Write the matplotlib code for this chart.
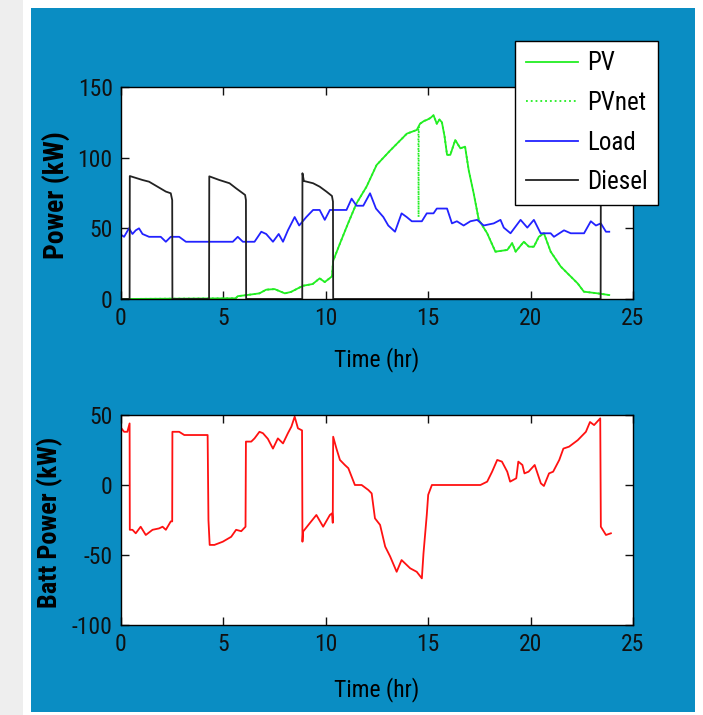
import numpy as np
import matplotlib
matplotlib.use('Agg')
import matplotlib.pyplot as plt
from matplotlib.patches import Rectangle

plt.rcParams['font.family'] = ['Roboto Condensed', 'Liberation Sans', 'DejaVu Sans']
plt.rcParams['axes.unicode_minus'] = False

# ---- data (time in hr, power in kW) ----
t_pv = [0, 5.6, 5.7, 6.1, 6.76, 7.09, 7.5, 7.75, 8.0, 8.3, 8.7, 8.9, 9.36, 9.7, 9.95,
        10.3, 10.36, 10.7, 11.09, 11.5, 11.99, 12.48, 13.14, 13.96, 14.44, 14.6, 14.8,
        14.93, 15.1, 15.26, 15.42, 15.55, 15.67, 15.8, 15.92, 16.08, 16.32, 16.57, 16.8,
        16.98, 17.22, 17.47, 17.88, 18.28, 18.86, 19.1, 19.27, 19.67, 19.92, 20.16, 20.4,
        20.65, 20.98, 21.47, 21.8, 22.3, 22.6, 23.27, 23.84]
pv = [0, 0.5, 2, 2.7, 4, 6.6, 7, 5.5, 4, 5, 8, 9.4, 10.6, 14.6, 12,
      16, 27, 39.6, 53.6, 67.7, 79.5, 94.8, 105, 117, 119.6, 124, 126,
      126.7, 128, 130, 124, 127, 125, 115, 102, 102, 112.5, 106.6, 107.8,
      91, 74.8, 56, 46.5, 33.5, 34.7, 39.5, 33.5, 40.5, 37, 37, 44,
      46.5, 33.5, 23, 18.2, 11, 5.2, 4, 2.8]

t_pvnet = [0, 5.6, 5.7, 6.1, 6.76, 7.09, 7.5, 7.75, 8.0, 8.3, 8.7, 8.9, 9.36, 9.7, 9.95,
           10.3, 10.36, 10.7, 11.09, 11.5, 11.99, 12.48, 13.14, 13.96, 14.44, 14.52, 14.53,
           14.54, 14.6, 14.8, 14.93, 15.1, 15.26, 15.42, 15.55, 15.67, 15.8, 15.92, 16.08,
           16.32, 16.57, 16.8, 16.98, 17.22, 17.47, 17.88, 18.28, 18.86, 19.1, 19.27, 19.67,
           19.92, 20.16, 20.4, 20.65, 20.98, 21.47, 21.8, 22.3, 22.6, 23.27, 23.84]
pvnet = [0, 0.5, 2, 2.7, 4, 6.6, 7, 5.5, 4, 5, 8, 9.4, 10.6, 14.6, 12,
         16, 27, 39.6, 53.6, 67.7, 79.5, 94.8, 105, 117, 119.6, 120, 58,
         121, 124, 126, 126.7, 128, 130, 124, 127, 125, 115, 102, 102,
         112.5, 106.6, 107.8, 91, 74.8, 56, 46.5, 33.5, 34.7, 39.5, 33.5, 40.5,
         37, 37, 44, 46.5, 33.5, 23, 18.2, 11, 5.2, 4, 2.8]

t_load = [0.02, 0.15, 0.39, 0.56, 0.72, 0.88, 1.05, 1.37, 1.94, 2.19, 2.43, 2.84, 3.17,
          5.46, 5.7, 5.95, 6.52, 6.85, 7.09, 7.42, 7.7, 7.91, 8.15, 8.48, 8.7, 9.05,
          9.38, 9.7, 9.95, 10.2, 11.01, 11.26, 11.5, 11.83, 12.16, 12.45, 12.81, 13.05,
          13.38, 13.7, 13.95, 14.2, 14.69, 14.93, 15.26, 15.42, 15.92, 16.16, 16.4, 16.73,
          17.06, 17.39, 17.71, 18.2, 18.53, 18.69, 19.02, 19.51, 19.84, 20.16, 20.49,
          20.98, 21.14, 21.63, 21.96, 22.61, 22.94, 23.19, 23.43, 23.68, 23.84]
load = [45.3, 44, 50, 46, 48.6, 50, 46, 44, 44, 40.5, 44, 44, 40.5,
        40.5, 44, 40.5, 40.5, 47.6, 46, 40.5, 46, 40.5, 48.6, 58, 52, 58,
        63, 63, 56, 63, 63, 71, 66, 66, 74.8, 64, 58, 52,
        47.6, 60.6, 58, 55, 55, 60.6, 60.6, 64, 64, 53.5, 55, 52,
        55, 56, 52, 53.5, 56, 50.5, 46.5, 56, 50.5, 56, 46.5,
        46.5, 44, 48.6, 46.5, 46.5, 55, 52, 53.5, 47.6, 47.6]

t_diesel = [0, 0.42, 0.43, 1.05, 1.37, 1.78, 2.19, 2.43, 2.5, 2.51,
            4.3, 4.31, 4.8, 5.3, 5.62, 5.95, 6.06, 6.1, 6.11,
            8.85, 8.86, 8.93, 9.38, 9.7, 10.03, 10.3, 10.35, 10.36,
            23.42, 23.43, 24.0]
diesel = [0, 0, 87, 84.2, 83, 79.5, 76, 74.8, 70, 0,
          0, 86.8, 84.2, 81.9, 78.3, 74.8, 73.6, 70, 0,
          0, 89, 83.5, 81.9, 79.5, 76, 72.9, 68.9, 0,
          0, 86, 84]

t_batt = [0.02, 0.15, 0.31, 0.42, 0.43, 0.56, 0.72, 0.96, 1.21, 1.54, 1.86, 2.03, 2.19,
          2.43, 2.5, 2.51, 2.84, 3.09, 4.23, 4.27, 4.33, 4.56, 4.97, 5.38, 5.62, 5.87,
          6.08, 6.1, 6.36, 6.52, 6.76, 6.93, 7.17, 7.42, 7.66, 7.91, 8.15, 8.32, 8.48,
          8.64, 8.84, 8.86, 8.89, 9.21, 9.54, 9.87, 10.2, 10.31, 10.34, 10.36, 10.52,
          10.69, 10.93, 11.1, 11.42, 11.75, 12.08, 12.24, 12.4, 12.65, 12.9, 13.14,
          13.46, 13.7, 14.12, 14.44, 14.69, 14.77, 14.93, 15.0, 15.18, 17.55, 17.88,
          18.12, 18.37, 18.6, 18.86, 19.0, 19.3, 19.4, 19.6, 19.7, 19.9, 20.2, 20.5,
          20.65, 20.9, 21.1, 21.4, 21.6, 21.88, 22.3, 22.7, 22.9, 23.1, 23.4, 23.43,
          23.68, 23.92]
batt = [40.5, 38, 38, 44, -32, -32, -34.5, -29.8, -35.7, -32, -31, -29.8, -32,
        -26, -26, 38, 38, 35.7, 35.7, -25, -42.8, -42.8, -40.5, -37, -32, -33,
        -29.8, 31, 31, 33.3, 38, 37, 33, 26, 33.3, 29.7, 37, 41.7, 48.8,
        40.5, 39, -40.5, -33.3, -27.4, -21.4, -29.8, -21.4, -20.2, -27, 34.5, 26,
        17.9, 14.3, 12, 0, 0, -3.6, -6, -23.8, -28.5, -44, -51,
        -62, -53.6, -59.5, -62, -66.7, -48.8, -21.4, -7, 0, 0, 2.4,
        9.5, 17.9, 16.7, 9.5, 2.4, 4.8, 16.7, 14.3, 8.3, 9.5, 14.3, 1.2,
        -0.7, 8.3, 9.5, 17.9, 26, 27.4, 32, 38, 45, 42.8, 47.6, -29.8,
        -35.7, -34.5]

x_ticks = [0, 5, 10, 15, 20, 25]
y1_ticks = [0, 50, 100, 150]
y2_ticks = [-100, -50, 0, 50]

# ---- figure ----
W, H = 703, 715
fig = plt.figure(figsize=(W / 100, H / 100), dpi=100, facecolor='white')
fig.patches.append(Rectangle((0, 0), 23 / W, 1, transform=fig.transFigure,
                             facecolor='#eeeeee', edgecolor='none', zorder=-10))
fig.patches.append(Rectangle((31 / W, 1 - 712 / H), (695 - 31) / W, (712 - 8) / H,
                             transform=fig.transFigure, facecolor='#0a8dc3',
                             edgecolor='none', zorder=-5))

ax1 = fig.add_axes([121 / W, 1 - 299 / H, 512 / W, 212 / H])
ax2 = fig.add_axes([121 / W, 1 - 625 / H, 512 / W, 210 / H])

G = '#22ee22'
ax1.plot(t_pv, pv, '-', color=G, lw=1.3, label='PV')
ax1.plot(t_pvnet, pvnet, ':', color=G, lw=1.3, label='PVnet')
ax1.plot(t_load, load, '-', color='#2222ff', lw=1.3, label='Load')
ax1.plot(t_diesel, diesel, '-', color='#222222', lw=1.3, label='Diesel')
ax1.set_ylim(0, 150)
ax1.set_yticks(y1_ticks)
ax1.set_ylabel('Power (kW)', fontsize=20, fontweight='bold')

ax2.plot(t_batt, batt, '-', color='#ff1111', lw=1.3)
ax2.set_ylim(-100, 50)
ax2.set_yticks(y2_ticks)
ax2.set_ylabel('Batt Power (kW)', fontsize=19, fontweight='bold')

# put the y labels where they sit in the picture (figure pixels)
ax1.yaxis.set_label_coords(70 / W, 1 - 195 / H, transform=fig.transFigure)
ax2.yaxis.set_label_coords(63 / W, 1 - 522 / H, transform=fig.transFigure)

for ax in (ax1, ax2):
    ax.set_xlim(0, 25)
    ax.set_xticks(x_ticks)
    ax.tick_params(direction='in', top=True, right=True, length=6, width=1,
                   labelsize=17, pad=6, colors='#111111')
    for s in ax.spines.values():
        s.set_linewidth(1.0)

ax1.set_xlabel('Time (hr)', fontsize=17, labelpad=12)
ax2.set_xlabel('Time (hr)', fontsize=17, labelpad=15)

leg = ax1.legend(loc='upper left', bbox_to_anchor=(515 / W, 1 - 41 / H),
                 bbox_transform=fig.transFigure, fontsize=18, frameon=True,
                 fancybox=False, edgecolor='black', framealpha=1,
                 handlelength=2.1, handletextpad=0.35, labelspacing=0.62,
                 borderpad=0.42, borderaxespad=0)
leg.get_frame().set_linewidth(1.0)
leg.set_zorder(10)

fig.savefig('out.png', dpi=100, facecolor=fig.get_facecolor())
